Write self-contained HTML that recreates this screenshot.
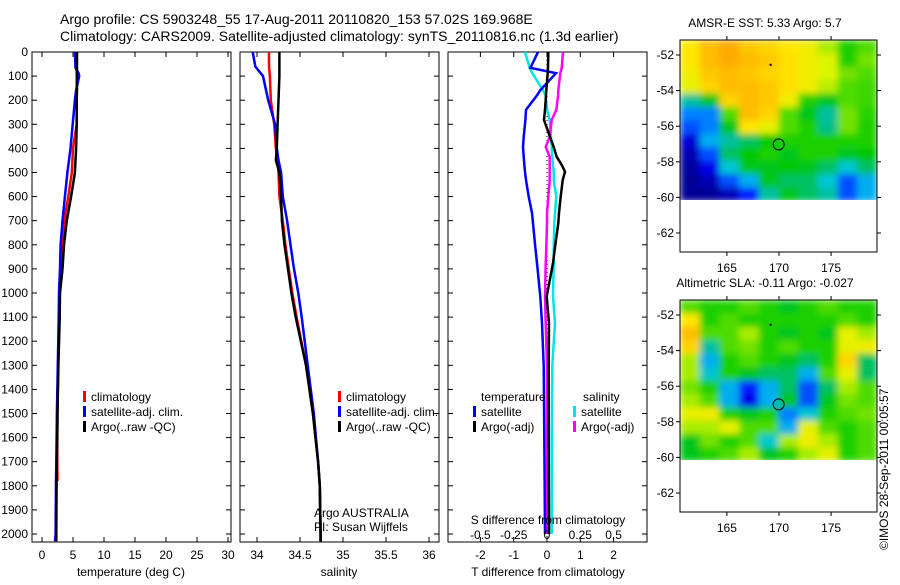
<!DOCTYPE html>
<html><head><meta charset="utf-8"><style>
body{margin:0;background:#fff;width:900px;height:580px;overflow:hidden}
svg{font-family:"Liberation Sans",sans-serif;}
</style></head><body>
<svg id="c" width="900" height="580" xmlns="http://www.w3.org/2000/svg">
<defs>
<filter id="blur1" filterUnits="userSpaceOnUse" x="680" y="40" width="197" height="160"><feGaussianBlur stdDeviation="3.5" edgeMode="duplicate"/></filter>
<filter id="blur2" filterUnits="userSpaceOnUse" x="680" y="300" width="197" height="160"><feGaussianBlur stdDeviation="3.5" edgeMode="duplicate"/></filter>
</defs>
<text x="60" y="24" font-size="14">Argo profile: CS 5903248_55 17-Aug-2011 20110820_153 57.02S 169.968E</text>
<text x="60" y="41" font-size="14">Climatology: CARS2009. Satellite-adjusted climatology: synTS_20110816.nc (1.3d earlier)</text>
<g id="g"></g>
<text transform="translate(888,550) rotate(-90)" font-size="12">©IMOS 28-Sep-2011 00:05:57</text>
</svg>
<script>
// ---- data ----
const depthT=[0,66,88,100,158,200,300,400,500,600,700,800,900,1000,1100,1300,1500,1700,1780,2000,2030];
const tempClim=[5.5,5.6,5.6,5.6,5.6,5.6,5.6,5.0,4.8,4.25,3.6,3.3,3.2,2.85,2.8,2.6,2.5,2.45,2.5,null,null];
const tempSat=[5.3,5.4,5.9,6.0,5.5,5.3,4.95,4.6,4.1,3.7,3.3,3.0,2.9,2.75,2.7,2.55,2.4,2.3,2.25,2.2,2.1];
const tempArgo=[5.65,5.65,5.65,5.65,5.65,5.6,5.6,5.5,5.3,4.7,4.0,3.55,3.3,2.9,2.85,2.65,2.5,2.4,2.35,2.3,2.3];
const depthS=[0,60,100,200,300,400,450,500,600,700,800,900,1000,1100,1300,1500,1700,1800,2000,2030];
const salClim=[34.14,34.14,34.15,34.16,34.2,34.22,34.24,34.25,34.26,34.30,34.33,34.37,34.41,34.46,34.57,34.65,34.71,34.73,34.74,34.74];
const salSat=[33.95,33.98,34.07,34.13,34.21,34.23,34.25,34.28,34.30,34.35,34.39,34.43,34.48,34.52,34.59,34.66,34.71,34.73,34.74,34.74];
const salArgo=[34.26,34.26,34.26,34.25,34.24,34.23,34.22,34.26,34.28,34.29,34.32,34.36,34.40,34.45,34.57,34.65,34.71,34.73,34.74,34.74];
const depthD=[0,66,88,158,180,240,282,352,394,435,470,497,531,600,668,710,810,876,1015,1124,1300,1600,2000];
const tDiffSat=[-0.27,-0.5,0.27,-0.2,-0.3,-0.63,-0.65,-0.7,-0.72,-0.7,-0.68,-0.66,-0.63,-0.55,-0.45,-0.42,-0.35,-0.3,-0.2,-0.15,-0.1,-0.08,-0.06];
const tDiffArgo=[0.04,0.03,0.02,-0.02,-0.03,-0.06,-0.09,0.09,0.2,0.29,0.45,0.54,0.47,0.41,0.36,0.34,0.24,0.18,-0.01,0.06,0.05,0.05,0.06];
const sDiffSat=[-0.165,-0.13,-0.11,-0.03,-0.01,0.0,0.02,0.03,0.035,0.04,0.045,0.05,0.05,0.07,0.06,0.055,0.05,0.05,0.045,0.06,0.04,0.035,0.035];
const sDiffArgo=[0.12,0.11,0.1,0.085,0.083,0.07,0.035,0.02,-0.01,0.02,0.02,0.02,0.02,0.01,0.0,0.0,-0.005,-0.01,-0.015,-0.01,0.0,0.0,0.0];
const sstGrid=[
[0.75,0.82,0.85,0.8,0.78,0.75,0.72,0.65,0.55,0.6],
[0.75,0.82,0.85,0.82,0.8,0.76,0.72,0.68,0.55,0.62],
[0.72,0.8,0.82,0.8,0.78,0.76,0.72,0.68,0.62,0.6],
[0.7,0.78,0.82,0.82,0.8,0.76,0.72,0.66,0.6,0.58],
[0.4,0.5,0.78,0.82,0.8,0.72,0.55,0.5,0.6,0.58],
[0.25,0.25,0.6,0.82,0.78,0.6,0.5,0.4,0.62,0.56],
[0.2,0.25,0.5,0.75,0.7,0.6,0.55,0.42,0.62,0.55],
[0.08,0.3,0.4,0.45,0.52,0.55,0.55,0.55,0.55,0.55],
[0.05,0.2,0.45,0.52,0.55,0.5,0.55,0.55,0.5,0.52],
[0.03,0.1,0.35,0.5,0.5,0.52,0.5,0.45,0.35,0.45],
[0.02,0.05,0.2,0.3,0.5,0.45,0.45,0.35,0.2,0.3],
[0.02,0.02,0.05,0.15,0.4,0.5,0.45,0.4,0.2,0.3]];
const slaGrid=[
[0.6,0.55,0.55,0.6,0.55,0.5,0.55,0.6,0.55,0.55],
[0.75,0.55,0.6,0.55,0.55,0.55,0.55,0.55,0.6,0.55],
[0.82,0.6,0.6,0.65,0.55,0.5,0.55,0.5,0.7,0.65],
[0.78,0.4,0.6,0.62,0.55,0.6,0.55,0.55,0.7,0.72],
[0.65,0.3,0.55,0.6,0.55,0.5,0.45,0.55,0.78,0.45],
[0.65,0.35,0.55,0.5,0.45,0.45,0.3,0.6,0.7,0.45],
[0.62,0.55,0.3,0.15,0.3,0.45,0.2,0.45,0.65,0.6],
[0.65,0.6,0.3,0.1,0.3,0.5,0.2,0.5,0.62,0.6],
[0.7,0.72,0.55,0.5,0.55,0.25,0.35,0.55,0.6,0.62],
[0.65,0.65,0.7,0.6,0.6,0.3,0.7,0.6,0.55,0.6],
[0.5,0.62,0.55,0.6,0.35,0.65,0.72,0.65,0.55,0.6],
[0.5,0.55,0.6,0.65,0.5,0.55,0.65,0.7,0.55,0.6]];
const depthTicks=[0,100,200,300,400,500,600,700,800,900,1000,1100,1200,1300,1400,1500,1600,1700,1800,1900,2000];
const tTicks=[0,5,10,15,20,25,30];
const sTicks=[34,34.5,35,35.5,36];
const dTicks=[-2,-1,0,1,2];
const sdTicks=["-0.5","-0.25","0","0.25","0.5"];
const lonTicks=[165,170,175];
const latTicks=[-52,-54,-56,-58,-60,-62];

// ---- helpers ----
const NS="http://www.w3.org/2000/svg", G=document.getElementById('g');
function mk(tag,at,parent){const e=document.createElementNS(NS,tag);for(const k in at)e.setAttribute(k,at[k]);(parent||G).appendChild(e);return e;}
const yD=d=>52+d*0.241;
const xT=v=>42+v*6.2, xS=v=>257+(v-34)*86, xDT=v=>547+v*33.3, xDS=v=>547+v*133.2;
const TOP=52,BOT=542;
function panel(x0,x1,name,ticksX,ticksLab,ylab){
  const r=mk('rect',{x:x0,y:TOP,width:x1-x0,height:BOT-TOP,fill:'none',stroke:'#000','stroke-width':1});
  
  
  ticksX.forEach((px,i)=>{
    mk('line',{x1:px,x2:px,y1:TOP,y2:TOP+5,stroke:'#000'});
    mk('line',{x1:px,x2:px,y1:BOT,y2:BOT-5,stroke:'#000'});
    const t=mk('text',{x:px,y:559,'font-size':12,'text-anchor':'middle'});t.textContent=ticksLab[i];
    
    
  });
  depthTicks.forEach(d=>{
    mk('line',{x1:x0,x2:x0+5,y1:yD(d),y2:yD(d),stroke:'#000'});
    mk('line',{x1:x1,x2:x1-5,y1:yD(d),y2:yD(d),stroke:'#000'});
    if(ylab){const t=mk('text',{x:x0-4,y:yD(d)+4,'font-size':12,'text-anchor':'end'});t.textContent=d;
      
      }
  });
}
function line(ds,vs,fx,color,name,w){
  const pts=[];ds.forEach((d,i)=>{if(vs[i]!==null)pts.push(fx(vs[i]).toFixed(1)+','+yD(d).toFixed(1));});
  const p=mk('polyline',{points:pts.join(' '),fill:'none',stroke:color,'stroke-width':w||2.5});
  
  
}
function txt(x,y,s,name,anchor){const t=mk('text',{x:x,y:y,'font-size':12,'text-anchor':anchor||'start'});t.textContent=s;
  
  return t;}
function leg(x,y,color,s,name){mk('rect',{x:x,y:y-10,width:3,height:11,fill:color});txt(x+8,y,s,name);}

// panel 1
panel(32,231,'temperature-panel',tTicks.map(xT),tTicks,true);
line(depthT,tempClim,xT,'#f00','temp-climatology-line');
line(depthT,tempSat,xT,'#00f','temp-satellite-line');
line(depthT,tempArgo,xT,'#000','temp-argo-line');
txt(131,576,'temperature (deg C)','x-axis-title-temperature','middle');
leg(83,401,'#f00','climatology','legend-climatology');
leg(83,416,'#00f','satellite-adj. clim.','legend-satellite');
leg(83,431,'#000','Argo(..raw -QC)','legend-argo');
// panel 2
panel(240,439,'salinity-panel',sTicks.map(xS),sTicks,false);
line(depthS,salClim,xS,'#f00','sal-climatology-line');
line(depthS,salSat,xS,'#00f','sal-satellite-line');
line(depthS,salArgo,xS,'#000','sal-argo-line');
txt(339,576,'salinity','x-axis-title-salinity','middle');
leg(338,401,'#f00','climatology','legend-climatology-2');
leg(338,416,'#00f','satellite-adj. clim.','legend-satellite-2');
leg(338,431,'#000','Argo(..raw -QC)','legend-argo-2');
txt(314,517,'Argo AUSTRALIA','argo-australia-label');
txt(314,531,'PI: Susan Wijffels','pi-label');
// panel 3
panel(448,647,'difference-panel',dTicks.map(xDT),dTicks,false);
mk('line',{x1:547,x2:547,y1:TOP,y2:BOT,stroke:'#000','stroke-dasharray':'1,3'});
line(depthD,sDiffSat,xDS,'#00e5e5','sdiff-satellite-line');
line(depthD,sDiffArgo,xDS,'#f0f','sdiff-argo-line');
line(depthD,tDiffSat,xDT,'#00f','tdiff-satellite-line');
line(depthD,tDiffArgo,xDT,'#000','tdiff-argo-line');
txt(548,576,'T difference from climatology','x-axis-title-tdiff','middle');
txt(548,524,'S difference from climatology','s-axis-title','middle');
sdTicks.forEach((s,i)=>txt(xDT(dTicks[i]),539,s,'s-tick-label','middle'));
txt(481,401,'temperature','legend-temperature-header');
leg(473,416,'#00f','satellite','legend-tsat');
leg(473,431,'#000','Argo(-adj)','legend-targo');
txt(583,401,'salinity','legend-salinity-header');
leg(573,416,'#00e5e5','satellite','legend-ssat');
leg(573,431,'#f0f','Argo(-adj)','legend-sargo');

// maps
const stops=[[0,[0,0,128]],[0.12,[0,0,255]],[0.25,[0,128,255]],[0.33,[0,200,230]],[0.42,[0,190,140]],[0.52,[0,200,0]],[0.6,[80,220,0]],[0.68,[220,245,0]],[0.75,[255,230,0]],[0.85,[255,170,0]],[1,[240,80,0]]];
function cmap(v){for(let i=1;i<stops.length;i++){if(v<=stops[i][0]){const a=stops[i-1],b=stops[i],t=(v-a[0])/(b[0]-a[0]);
  return 'rgb('+a[1].map((c,k)=>Math.round(c+(b[1][k]-c)*t)).join(',')+')';}}return 'rgb(240,80,0)';}
function map(top,grid,title,name,filt){
  const x0=680,x1=877,y52=top+15;
  const xL=lon=>680+(lon-160.5)*10.42, yL=lat=>y52+(-52-lat)*17.8;
  const latTop=-51.16, latBot=-60.2, lonL=160.5, lonR=179.4;
  const nr=grid.length,nc=grid[0].length,dlat=(latTop-latBot)/nr,dlon=(lonR-lonL)/nc;
  const cg=mk('g',{filter:'url(#'+filt+')'});
  
  
  grid.forEach((row,r)=>row.forEach((v,c)=>{
    const cell=mk('rect',{x:xL(lonL+c*dlon).toFixed(1),y:yL(latTop-r*dlat).toFixed(1),width:(dlon*10.42+0.6).toFixed(1),height:(dlat*17.8+0.6).toFixed(1),fill:cmap(v)},cg);
    
    
  }));
  const fr=mk('rect',{x:x0,y:top,width:x1-x0,height:212,fill:'none',stroke:'#000'});
  
  
  lonTicks.forEach(l=>{mk('line',{x1:xL(l),x2:xL(l),y1:top,y2:top-4,stroke:'#000'});mk('line',{x1:xL(l),x2:xL(l),y1:top+212,y2:top+216,stroke:'#000'});
    txt(xL(l),top+232,l,'lon-tick-label','middle');});
  latTicks.forEach(l=>{mk('line',{x1:x0,x2:x0-4,y1:yL(l),y2:yL(l),stroke:'#000'});mk('line',{x1:x1,x2:x1+4,y1:yL(l),y2:yL(l),stroke:'#000'});
    txt(x0-6,yL(l)+4,l,'lat-tick-label','end');});
  mk('circle',{cx:xL(169.97),cy:yL(-57.02),r:5.5,fill:'none',stroke:'#000','stroke-width':1});
  mk('circle',{cx:xL(169.2),cy:yL(-52.55),r:1.2,fill:'#000'});
  txt(765,top-13,title,name+'-title','middle');
}
map(40,sstGrid,'AMSR-E SST: 5.33 Argo: 5.7','sst-map','blur1');
map(300,slaGrid,'Altimetric SLA: -0.11 Argo: -0.027','sla-map','blur2');
</script>
</body></html>
